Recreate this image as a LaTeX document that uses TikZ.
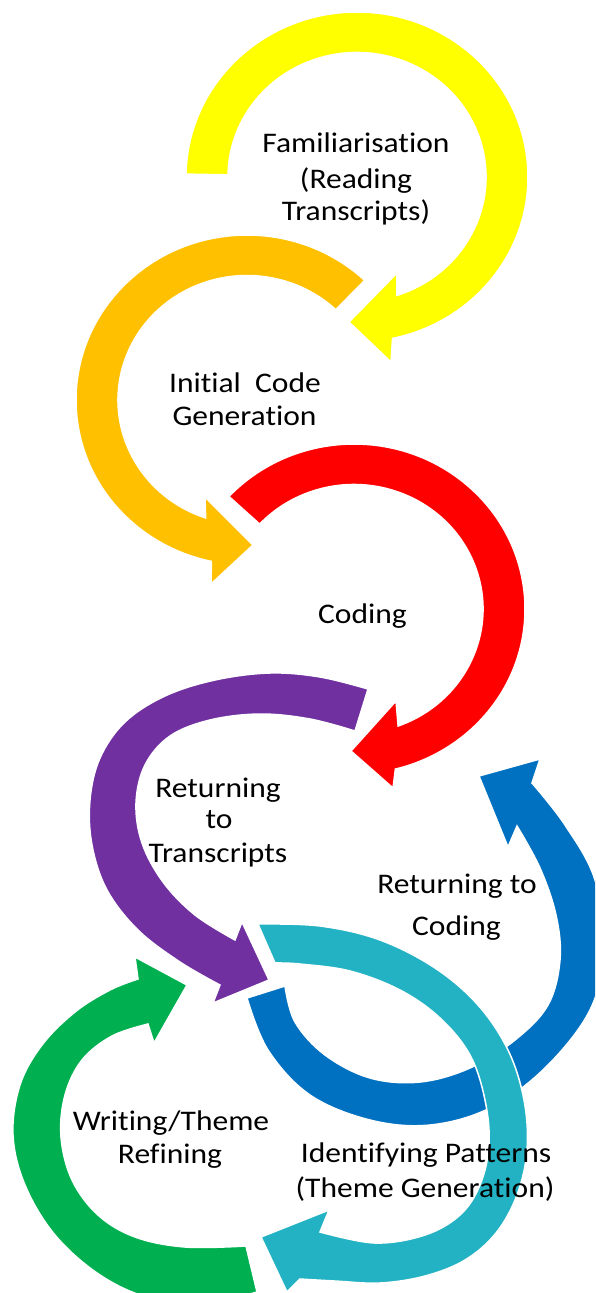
\documentclass[tikz,border=0pt]{standalone}
\usepackage{fontspec}
\newfontfamily\lblfont{Carlito}[FakeStretch=1.11, Ligatures={NoCommon,NoContextual}]

\definecolor{cyYellow}{RGB}{255,255,0}
\definecolor{cyOrange}{RGB}{255,192,0}
\definecolor{cyRed}{RGB}{255,0,0}
\definecolor{cyPurple}{RGB}{112,48,160}
\definecolor{cyBlue}{RGB}{0,112,192}
\definecolor{cyTeal}{RGB}{35,178,195}
\definecolor{cyGreen}{RGB}{0,176,80}

\tikzset{
  ringbody/.style={draw=white, line width=1.5pt, line join=miter},
  rim/.style={smooth, tension=0.6},
  lbl/.style={font=\lblfont\fontsize{28.4}{34}\selectfont, inner sep=0pt, anchor=base, text=black}
}

% circular arrow on an ellipse: outer radii 171/165, inner radii 129/124.5
% #1 colour, #2 centre, #3/#4 tail angle (outer/inner),
% #5/#6 angle where the body meets the head (outer/inner),
% #7 outer barb, #8 tip, #9 inner barb
\newcommand\ringarrow[9]{%
  \path[ringbody, fill=#1]
    ([shift={(#2)}]#3:171 and 165)
    arc[start angle=#3, end angle=#5, x radius=171, y radius=165]
    -- (#7) -- (#8) -- (#9)
    -- ([shift={(#2)}]#6:129 and 124.5)
    arc[start angle=#6, end angle=#4, x radius=129, y radius=124.5]
    -- cycle;}

\begin{document}
\begin{tikzpicture}[x=1pt,y=-1pt]
\path[use as bounding box] (0,0) rectangle (595,1293);
\clip (0,0) rectangle (595,1293);
\fill[white] (0,0) rectangle (595,1293);

% Familiarisation
\ringarrow{cyYellow}{357,177}{181}{181}{438}{432}{391,362}{349,322}{397,273}
% Initial code generation
\ringarrow{cyOrange}{247,400}{-46.5}{-46.5}{-258}{-251.3}{211,584}{253,545}{205,497}
% Coding
\ringarrow{cyRed}{354,609}{223}{223}{436}{430}{393,788}{351,751}{396,701}

% Returning to transcripts
\path[ringbody, fill=cyPurple]
  plot[rim] coordinates {(368,689) (320,677) (270,673) (215,680) (165,696) (125,722)
    (100,758) (90,800) (92,845) (107,890) (138,930) (180,962) (220,985)}
  -- (213,1003) -- (269,980) -- (242,922)
  -- plot[rim] coordinates {(235,940) (195,915) (163,882) (142,843) (136,803) (145,765)
    (170,736) (210,720) (260,714) (310,719) (355,731)}
  -- cycle;

% Returning to coding
\path[ringbody, fill=cyBlue]
  plot[rim] coordinates {(247,998) (268,1050) (310,1095) (370,1120) (430,1125) (490,1108)
    (545,1068) (590,1010) (603,950) (595,880) (565,825) (532,783)}
  -- (540,759) -- (479,776) -- (508,847)
  -- plot[rim] coordinates {(517,826) (540,868) (556,915) (560,960) (548,1005) (515,1040)
    (470,1068) (420,1082) (370,1078) (325,1055) (295,1022) (285,986)}
  -- cycle;

% Identifying patterns
\path[ringbody, fill=cyTeal]
  plot[rim] coordinates {(258,924) (320,926) (380,940) (435,968) (478,1005) (508,1050)
    (524,1100) (527,1150) (517,1195) (496,1233) (465,1260) (425,1276) (380,1283)
    (335,1281) (300,1279)}
  -- (287,1292) -- (261,1237) -- (329,1210)
  -- plot[rim] coordinates {(320,1232) (375,1243) (425,1235) (460,1215) (480,1185)
    (489,1145) (485,1100) (470,1055) (440,1018) (400,990) (350,971) (300,964) (275,963)}
  -- cycle;

% Writing / theme refining
\path[ringbody, fill=cyGreen]
  plot[rim] coordinates {(257,1292) (205,1303) (150,1298) (100,1275) (55,1235) (25,1185)
    (13,1135) (20,1085) (42,1045) (75,1012) (110,990) (138,979)}
  -- (135,957) -- (187,985) -- (154,1043)
  -- plot[rim] coordinates {(148,1024) (112,1036) (82,1060) (65,1095) (61,1137)
    (72,1180) (98,1215) (135,1237) (185,1247) (246,1246)}
  -- cycle;

% labels
\node[lbl] (fam1) at (356,152) {Familiarisation};
\node[lbl] (fam2) at (356,188) {(Reading};
\node[lbl] (fam3) at (356,220) {Transcripts)};
\node[lbl] (icg1) at (245,392) {Initial\ \ Code};
\node[lbl] (icg2) at (244.5,425) {Generation};
\node[lbl] (cod) at (362.5,623) {Coding};
\node[lbl] (rtt1) at (218,797) {Returning};
\node[lbl] (rtt2) at (219,828) {to};
\node[lbl] (rtt3) at (218,862) {Transcripts};
\node[lbl] (rtc1) at (457,893) {Returning to};
\node[lbl] (rtc2) at (456.5,935) {Coding};
\node[lbl] (wtr1) at (171,1130) {Writing/Theme};
\node[lbl] (wtr2) at (170,1163) {Refining};
\node[lbl] (idp1) at (426,1162) {Identifying Patterns};
\node[lbl] (idp2) at (425,1197) {(Theme Generation)};
\end{tikzpicture}
\end{document}
